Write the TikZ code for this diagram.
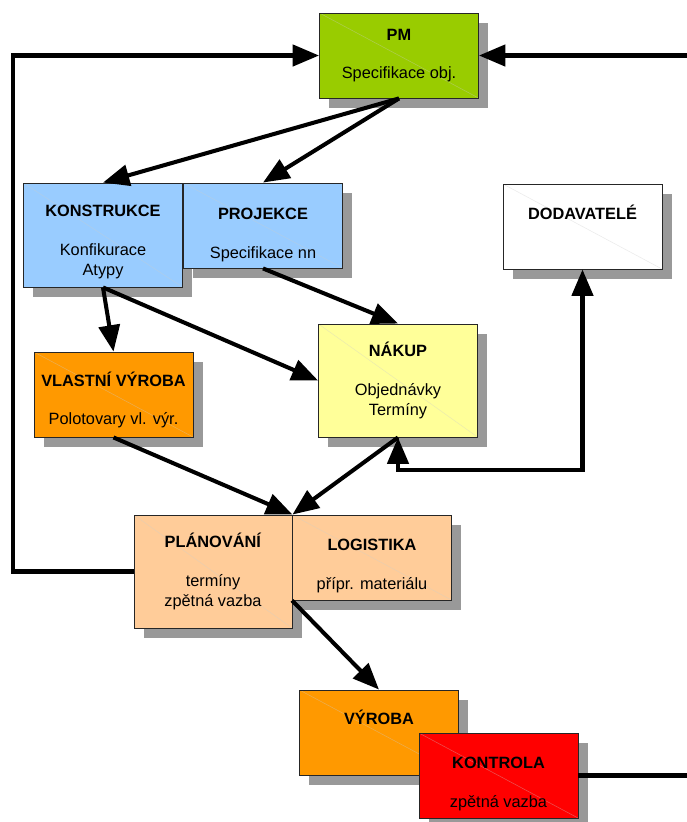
\documentclass[tikz,border=0pt]{standalone}
\usepackage{fontspec}
\setmainfont{Liberation Sans}
\usetikzlibrary{arrows.meta,shadows}
\definecolor{pmgreen}{HTML}{99CC00}
\definecolor{kblue}{HTML}{99CCFF}
\definecolor{vorange}{HTML}{FF9900}
\definecolor{nyellow}{HTML}{FFFF99}
\definecolor{plpeach}{HTML}{FFCC99}
\definecolor{kred}{HTML}{FF0000}
\definecolor{shadowgray}{HTML}{999999}
\newcommand{\hd}[3][0pt]{\rule{0pt}{#1}\textbf{#2}\\[10.5pt]#3}
\tikzset{
    every node/.style={rectangle, draw=black!85, line width=.5pt, minimum width=3.18cm,
    	minimum height=1.7cm, inner sep=0pt, align=center,
    	font=\fontsize{9.3}{11.5}\selectfont,
    	drop shadow={shadow xshift=.19cm, shadow yshift=-.19cm, fill=shadowgray, opacity=1},
    	path picture={\draw[gray!40, line width=.3pt, opacity=.4]
    	(path picture bounding box.north west) -- (path picture bounding box.south east);}}
}
\tikzset{
    every edge/.append style={line width=2.3pt, -{Triangle[length=15pt,width=12pt]}}
}
\tikzset{
    arr/.style={line width=2.3pt, -{Triangle[length=15pt,width=12pt]}}
}

\begin{document}
\begin{tikzpicture}
  \useasboundingbox (0cm, 0cm) rectangle (13.74cm, -16.44cm);
  \node (pm) [fill=pmgreen] at (7.98cm, -1.11cm) {\hd{PM}{Specifikace obj.}};
  \node (konstrukce) [fill=kblue, minimum height=2.08cm] at (2.06cm, -4.70cm) {\hd[14.5pt]{KONSTRUKCE}{Konfikurace\\Atypy}};
  \node (projekce) [fill=kblue] at (5.26cm, -4.51cm) {\hd[17pt]{PROJEKCE}{Specifikace nn}};
  \node (dodavatele) [fill=white] at (11.65cm, -4.53cm) {\hd[17pt]{DODAVATELÉ}{\strut}};
  \node (vlastni) [fill=vorange] at (2.27cm, -7.89cm) {\hd[14.5pt]{VLASTNÍ VÝROBA}{Polotovary vl. výr.}};
  \node (nakup) [fill=nyellow, minimum height=2.26cm] at (7.96cm, -7.61cm) {\hd{NÁKUP}{Objednávky\\Termíny}};
  \node (planovani) [fill=plpeach, minimum height=2.26cm, minimum width=3.16cm] at (4.26cm, -11.43cm) {\hd{PLÁNOVÁNÍ}{termíny\\zpětná vazba}};
  \node (logistika) [fill=plpeach] at (7.44cm, -11.15cm) {\hd[16pt]{LOGISTIKA}{přípr. materiálu}};
  \node (vyroba) [fill=vorange] at (7.58cm, -14.65cm) {\hd[16pt]{VÝROBA}{\strut}};
  \node (kontrola) [fill=kred] at (9.97cm, -15.51cm) {\hd[16pt]{KONTROLA}{zpětná vazba}};

  \coordinate (loop) at (0.26cm, -1.11cm);
  \coordinate (pmin) at (13.74cm, -1.11cm);
  \coordinate (out) at (13.74cm, -15.51cm);
  \coordinate (dod) at (11.65cm, -9.40cm);

  \draw (pm.south) edge (konstrukce.north); \draw (pm.south) edge (projekce.north);
  \draw (konstrukce.south) edge (vlastni.north); \draw (konstrukce.south) edge (nakup.west);
  \draw (projekce.south) edge (nakup.north); \draw (vlastni.south) edge (planovani.north east);
  \draw (nakup.south) edge (planovani.north east); \draw (logistika.south west) edge (vyroba.north);
  \draw (pmin) edge (pm.east);
  \draw [arr] (planovani.west) -| (loop) -- (pm.west);
  \draw [arr, {Triangle[length=15pt,width=12pt]}-{Triangle[length=15pt,width=12pt]}] (nakup.south) |- (dod) -- (dodavatele.south);
  \draw [line width=2.3pt] (kontrola.east) -- (out);
\end{tikzpicture}
\end{document}
